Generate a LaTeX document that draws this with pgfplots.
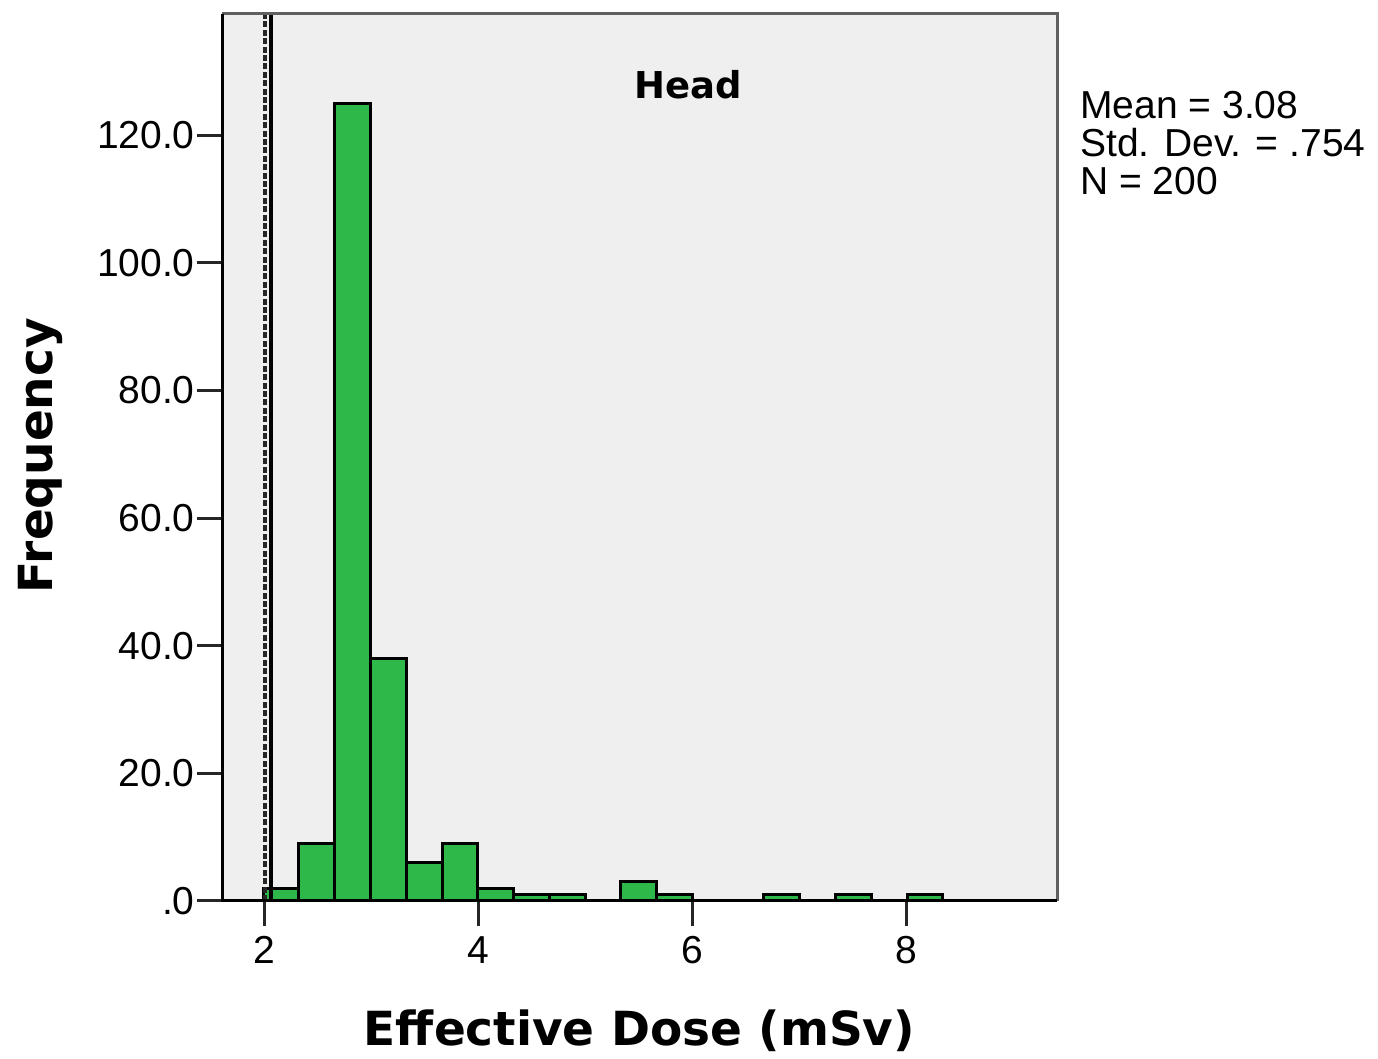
\documentclass[border=0pt]{standalone}
\usepackage{pgfplots}
\pgfplotsset{compat=1.18}
\usepackage{fontspec}
\setmainfont{Liberation Sans}
\newfontfamily\labfont{DejaVu Sans}
\definecolor{bargreen}{RGB}{46,184,74}
\definecolor{bggray}{RGB}{239,239,239}
\definecolor{framegray}{RGB}{96,96,96}
\begin{document}
\begin{tikzpicture}
\path (0,0) rectangle (689pt,529.5pt);
\begin{axis}[
  at={(111pt,79pt)}, anchor=south west,
  scale only axis, width=417.5pt, height=443.5pt,
  xmin=1.601, xmax=9.405, ymin=0, ymax=139,
  axis background/.style={fill=bggray},
  axis line style={draw=none},
  xtick={2,4,6,8}, xticklabels={2,4,6,8},
  ytick={0,20,40,60,80,100,120},
  yticklabels={.0,20.0,40.0,60.0,80.0,100.0,120.0},
  xtick pos=left, ytick pos=left,
  tick align=outside, major tick length=12.5pt,
  tick style={line width=1.5pt, color=black!85},
  ticklabel style={font=\fontsize{19.5}{19.5}\selectfont},
  yticklabel style={inner sep=1pt},
  xticklabel style={inner sep=2pt, yshift=-3pt},
  xlabel={Effective Dose (mSv)}, ylabel={Frequency},
  label style={font=\labfont\bfseries\fontsize{23.5}{23.5}\selectfont},
  xlabel style={at={(axis description cs:0.5,-0.1466)}, anchor=center},
  ylabel style={at={(axis description cs:-0.218,0.502)}, anchor=center},
  clip=false,
]
\addplot[ybar interval, fill=bargreen, draw=black, line width=1.5pt] coordinates {
(1.9860,2) (2.3203,9) (2.6546,125) (2.9889,38) (3.3232,6) (3.6575,9)
(3.9918,2) (4.3261,1) (4.6604,1) (4.9947,0) (5.3290,3) (5.6633,1)
(5.9976,0) (6.3319,0) (6.6662,1) (7.0005,0) (7.3348,1) (7.6691,0)
(8.0034,1) (8.3377,1)
};
\addplot[black!85, line width=2pt, dash pattern=on 3pt off 1.2pt] coordinates {(2,0) (2,139)};
\addplot[black, line width=2pt] coordinates {(2.062,0) (2.062,139)};
\draw[framegray, line width=1.5pt] (rel axis cs:0,1) -- (rel axis cs:1,1) -- (rel axis cs:1,0);
\draw[black, line width=1.5pt] (rel axis cs:0,1) -- (rel axis cs:0,0) -- (rel axis cs:1,0);
\node[font=\labfont\bfseries\fontsize{18.5}{18.5}\selectfont] at (axis description cs:0.558,0.92) {Head};
\node[anchor=north west, inner sep=0pt, align=left, font=\fontsize{19.5}{19}\selectfont] at (axis description cs:1.0275,0.913) {Mean = 3.08\\Std. Dev. = .754\\N = 200};
\end{axis}
\end{tikzpicture}
\end{document}
